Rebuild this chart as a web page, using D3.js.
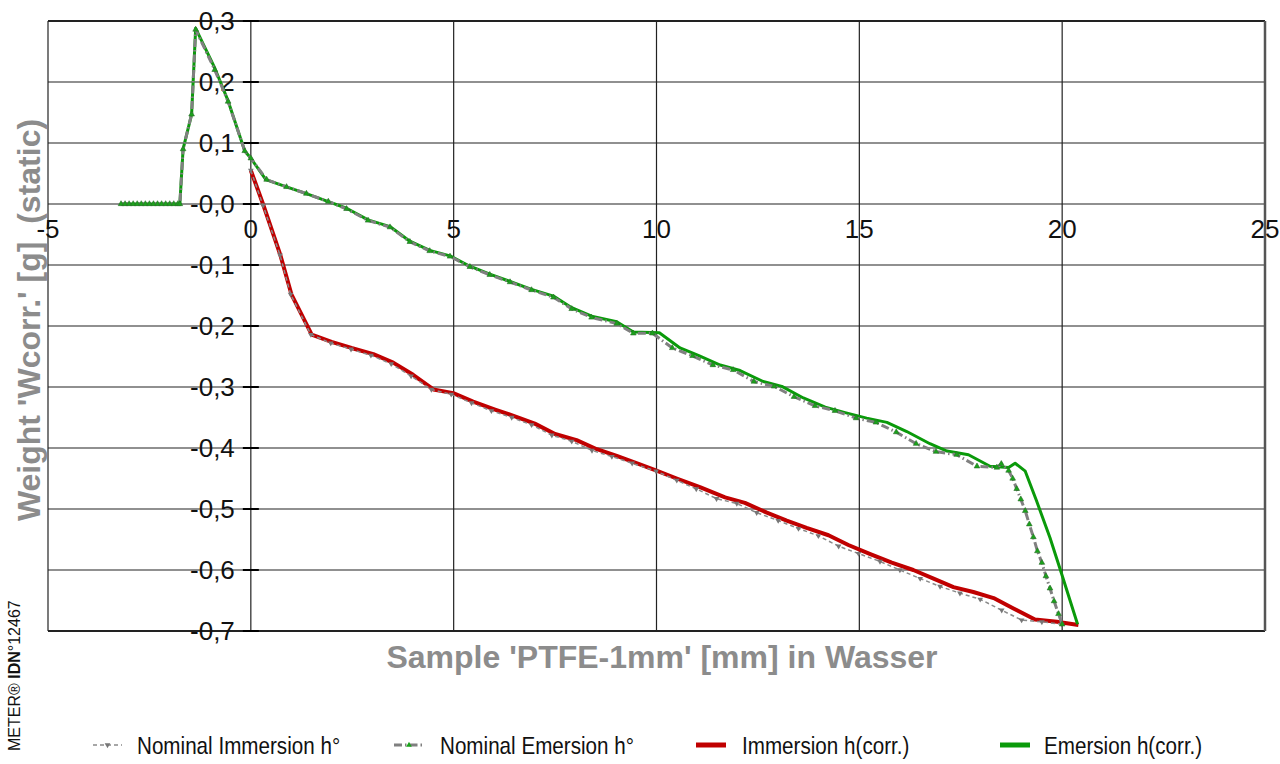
<!DOCTYPE html>
<html>
<head>
<meta charset="utf-8">
<script src="https://cdn.jsdelivr.net/npm/d3@7"></script>
<style>
  html, body { margin: 0; padding: 0; background: #fff; }
  svg { display: block; font-family: "Liberation Sans", Arial, sans-serif; }
  text { white-space: pre; }
</style>
</head>
<body>
<svg id="chart" width="1280" height="764"></svg>
<script>
// --- data ---
const xTicks = [-5, 0, 5, 10, 15, 20, 25];
const xTickLabels = ["-5", "0", "5", "10", "15", "20", "25"];
const yTicks = [0.3, 0.2, 0.1, 0, -0.1, -0.2, -0.3, -0.4, -0.5, -0.6, -0.7];
const yTickLabels = ["0,3", "0,2", "0,1", "-0,0", "-0,1", "-0,2", "-0,3", "-0,4", "-0,5", "-0,6", "-0,7"];

// [mm, g]
const nominalImmersion = [
  [0, 0.055], [0.30, -0.002], [0.72, -0.084], [0.98, -0.148], [1.48, -0.214], [1.97, -0.228],
  [2.47, -0.238], [2.96, -0.248], [3.46, -0.262], [3.95, -0.282], [4.45, -0.304], [4.94, -0.312],
  [5.44, -0.326], [5.93, -0.339], [6.43, -0.350], [6.92, -0.362], [7.42, -0.379], [7.91, -0.389],
  [8.41, -0.404], [8.90, -0.414], [9.40, -0.425], [9.99, -0.438], [10.50, -0.453], [10.98, -0.467],
  [11.48, -0.483], [11.98, -0.491], [12.47, -0.506], [13.00, -0.519], [13.50, -0.532], [13.99, -0.544],
  [14.49, -0.561], [14.98, -0.573], [15.51, -0.586], [16.00, -0.600], [16.50, -0.614], [16.99, -0.627],
  [17.48, -0.638], [17.98, -0.648], [18.51, -0.666], [19.00, -0.682], [19.50, -0.685], [19.99, -0.689]
];

const nominalEmersion = [
  [-3.2, 0], [-3.1, 0], [-3.0, 0], [-2.9, 0], [-2.8, 0], [-2.7, 0], [-2.6, 0], [-2.5, 0],
  [-2.4, 0], [-2.3, 0], [-2.2, 0], [-2.1, 0], [-2.0, 0], [-1.9, 0], [-1.8, 0], [-1.75, 0],
  [-1.67, 0.09], [-1.46, 0.147], [-1.36, 0.286], [-0.89, 0.22], [-0.56, 0.168], [-0.15, 0.087],
  [0, 0.075], [0.39, 0.04], [0.88, 0.028], [1.37, 0.017], [1.91, 0.004], [2.36, -0.008],
  [2.89, -0.027], [3.43, -0.038], [3.92, -0.062], [4.41, -0.077], [4.91, -0.086], [5.40, -0.103],
  [5.89, -0.116], [6.39, -0.128], [6.92, -0.141], [7.46, -0.153], [7.91, -0.172], [8.40, -0.186],
  [9.02, -0.196], [9.43, -0.212], [9.90, -0.212], [10.39, -0.236], [10.89, -0.249], [11.39, -0.264],
  [11.89, -0.272], [12.40, -0.291], [12.90, -0.299], [13.39, -0.316], [13.91, -0.331], [14.40, -0.339],
  [14.92, -0.351], [15.41, -0.358], [15.91, -0.374], [16.40, -0.393], [16.89, -0.406], [17.40, -0.411],
  [17.90, -0.430], [18.39, -0.432], [18.50, -0.426], [18.68, -0.437], [18.78, -0.450], [18.88, -0.467],
  [18.98, -0.484], [19.09, -0.503], [19.19, -0.525], [19.29, -0.546], [19.39, -0.569], [19.50, -0.588],
  [19.60, -0.610], [19.70, -0.630], [19.80, -0.651], [19.91, -0.672], [20.00, -0.689]
];

const immersionCorr = [
  [0, 0.055], [0.30, 0.0], [0.72, -0.082], [1.00, -0.148], [1.50, -0.214], [1.99, -0.226],
  [2.48, -0.236], [3.02, -0.246], [3.51, -0.260], [4.00, -0.280], [4.50, -0.304], [4.99, -0.310],
  [5.48, -0.324], [6.02, -0.337], [6.51, -0.348], [7.00, -0.360], [7.50, -0.377], [8.03, -0.387],
  [8.53, -0.402], [9.02, -0.413], [9.59, -0.427], [10.00, -0.437], [10.50, -0.450], [11.07, -0.464],
  [11.69, -0.481], [12.18, -0.490], [12.72, -0.506], [13.21, -0.519], [13.70, -0.531], [14.24, -0.543],
  [14.73, -0.559], [15.27, -0.574], [15.80, -0.588], [16.33, -0.600], [16.83, -0.614], [17.32, -0.628],
  [17.81, -0.636], [18.31, -0.646], [18.80, -0.663], [19.33, -0.681], [19.87, -0.685], [20.40, -0.690]
];

const emersionCorr = [
  [-3.2, 0], [-1.75, 0], [-1.67, 0.09], [-1.46, 0.147], [-1.36, 0.288], [-0.89, 0.223],
  [-0.56, 0.169], [-0.15, 0.087], [0, 0.075], [0.37, 0.04], [0.88, 0.028], [1.37, 0.017],
  [1.91, 0.004], [2.36, -0.007], [2.89, -0.026], [3.43, -0.037], [3.92, -0.061], [4.41, -0.076],
  [4.91, -0.085], [5.40, -0.102], [5.89, -0.115], [6.39, -0.127], [6.92, -0.140], [7.46, -0.151],
  [7.91, -0.170], [8.40, -0.184], [9.02, -0.193], [9.43, -0.210], [10.07, -0.211], [10.58, -0.236],
  [11.03, -0.248], [11.57, -0.264], [12.06, -0.273], [12.63, -0.291], [13.09, -0.299], [13.62, -0.318],
  [14.16, -0.333], [14.65, -0.342], [15.18, -0.351], [15.68, -0.358], [16.17, -0.373], [16.74, -0.393],
  [17.16, -0.405], [17.69, -0.411], [18.22, -0.430], [18.68, -0.432], [18.84, -0.425], [19.09, -0.438],
  [19.37, -0.487], [19.70, -0.547], [19.99, -0.607], [20.38, -0.689]
];

const legendLabels = ["Nominal Immersion h°", "Nominal Emersion h°", "Immersion h(corr.)", "Emersion h(corr.)"];

// --- chart ---
const svg = d3.select("#chart");
const x = d3.scaleLinear().domain([-5, 25]).range([48, 1265]);
const y = d3.scaleLinear().domain([-0.7, 0.3]).range([631, 21]);

const RED = "#c00000", GREEN = "#0a9a0a", GRAY = "#8a8a8a";

// grid
const grid = svg.append("g");
grid.selectAll("line.h").data(yTicks).enter().append("line")
  .attr("x1", x(-5)).attr("x2", x(25))
  .attr("y1", d => y(d)).attr("y2", d => y(d))
  .attr("stroke", "#222").attr("stroke-width", d => (d === 0.3 || d === -0.7) ? 2 : 1.2);
grid.selectAll("line.v").data(xTicks).enter().append("line")
  .attr("x1", d => x(d)).attr("x2", d => x(d))
  .attr("y1", y(0.3)).attr("y2", y(-0.7))
  .attr("stroke", d => d === 25 ? "#555" : "#222").attr("stroke-width", d => d === 25 ? 2.5 : 1.2);

// small ticks on the y axis (x = 0)
grid.selectAll("line.t").data(yTicks).enter().append("line")
  .attr("x1", x(0) - 8).attr("x2", x(0) + 8)
  .attr("y1", d => y(d)).attr("y2", d => y(d))
  .attr("stroke", "#000").attr("stroke-width", 2);

// tick labels
svg.append("g").selectAll("text").data(yTicks).enter().append("text")
  .attr("x", x(0) - 16).attr("y", d => y(d) + 9)
  .attr("text-anchor", "end").attr("font-size", 26).attr("fill", "#111")
  .text((d, i) => yTickLabels[i]);
svg.append("g").selectAll("text").data(xTicks).enter().append("text")
  .attr("x", d => x(d)).attr("y", y(0) + 34)
  .attr("text-anchor", "middle").attr("font-size", 26).attr("fill", "#111")
  .text((d, i) => xTickLabels[i]);

// lines
const line = d3.line().x(d => x(d[0])).y(d => y(d[1]));

svg.append("path").datum(immersionCorr).attr("d", line)
  .attr("fill", "none").attr("stroke", RED).attr("stroke-width", 4).attr("stroke-linejoin", "round");
svg.append("path").datum(emersionCorr).attr("d", line)
  .attr("fill", "none").attr("stroke", GREEN).attr("stroke-width", 3).attr("stroke-linejoin", "round");

svg.append("path").datum(nominalImmersion).attr("d", line)
  .attr("fill", "none").attr("stroke", GRAY).attr("stroke-width", 1.5).attr("stroke-dasharray", "4,3");
svg.append("path").datum(nominalEmersion).attr("d", line)
  .attr("fill", "none").attr("stroke", "#808080").attr("stroke-width", 3).attr("stroke-dasharray", "8,3,1.5,3");

const triUp = d3.symbol().type(d3.symbolTriangle).size(14);
svg.append("g").selectAll("path").data(nominalImmersion).enter().append("path")
  .attr("d", triUp)
  .attr("transform", d => `translate(${x(d[0])},${y(d[1])}) rotate(180)`)
  .attr("fill", "#777");
svg.append("g").selectAll("path").data(nominalEmersion).enter().append("path")
  .attr("d", triUp)
  .attr("transform", d => `translate(${x(d[0])},${y(d[1])})`)
  .attr("fill", "#1aa31a").attr("stroke", "#2b6b2b").attr("stroke-width", 0.6);

// axis titles
svg.append("text")
  .attr("x", 662).attr("y", 668)
  .attr("text-anchor", "middle").attr("font-size", 32).attr("font-weight", "bold").attr("fill", "#8c8c8c")
  .text("Sample 'PTFE-1mm' [mm] in Wasser");
svg.append("text")
  .attr("transform", "translate(40,320) rotate(-90)")
  .attr("text-anchor", "middle").attr("font-size", 32).attr("font-weight", "bold").attr("fill", "#8c8c8c")
  .text("Weight 'Wcorr.' [g]  (static)");

// side note
const note = svg.append("text")
  .attr("transform", "translate(20,751) rotate(-90)")
  .attr("font-size", 16).attr("fill", "#111");
note.append("tspan").text("METER® ");
note.append("tspan").attr("font-weight", "bold").text("IDN");
note.append("tspan").text("°12467");

// legend (narrow face: horizontally condensed)
const legend = svg.append("g");
const ly = 745;
const legendItems = [
  { x1: 93, x2: 122, tx: 137, stroke: GRAY, w: 1.5, dash: "4,3", marker: "down" },
  { x1: 394, x2: 424, tx: 440, stroke: "#808080", w: 3, dash: "8,3,1.5,3", marker: "up" },
  { x1: 696, x2: 726, tx: 742, stroke: RED, w: 5, dash: null, marker: null },
  { x1: 1000, x2: 1030, tx: 1044, stroke: GREEN, w: 5, dash: null, marker: null }
];
legendItems.forEach((it, i) => {
  legend.append("line")
    .attr("x1", it.x1).attr("x2", it.x2).attr("y1", ly).attr("y2", ly)
    .attr("stroke", it.stroke).attr("stroke-width", it.w)
    .attr("stroke-dasharray", it.dash);
  if (it.marker) {
    legend.append("path").attr("d", triUp)
      .attr("transform", `translate(${(it.x1 + it.x2) / 2},${ly})` + (it.marker === "down" ? " rotate(180)" : ""))
      .attr("fill", it.marker === "down" ? "#777" : "#1aa31a");
  }
  legend.append("text")
    .attr("transform", `translate(${it.tx},${ly + 9}) scale(0.86,1)`)
    .attr("font-size", 24).attr("fill", "#111")
    .text(legendLabels[i]);
});
</script>
</body>
</html>
